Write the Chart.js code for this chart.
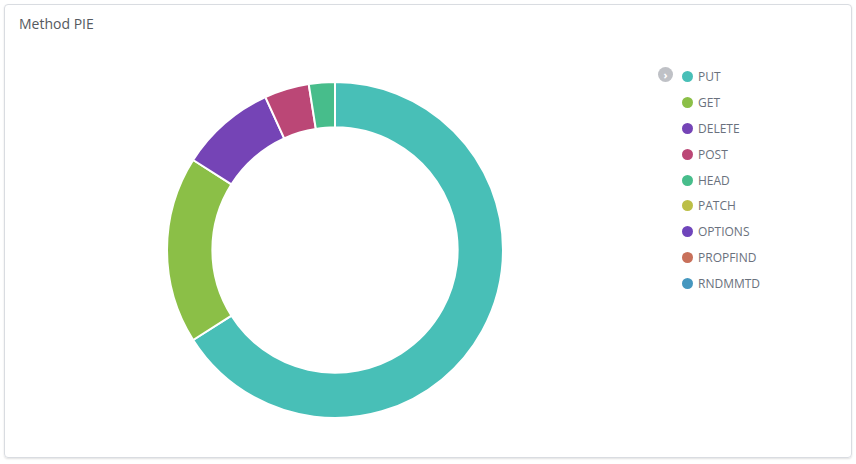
<!DOCTYPE html>
<html><head><meta charset="utf-8">
<script src="https://cdn.jsdelivr.net/npm/chart.js@4"></script>
<style>
body{margin:0;width:856px;height:464px;background:#fff;font-family:"Open Sans",sans-serif;}
#card{position:absolute;left:4px;top:4px;width:846px;height:452px;border:1px solid #d9dce1;border-radius:4px;box-shadow:0 1px 2px rgba(0,0,0,.12);}
#title{position:absolute;left:14px;top:9px;font-size:14px;color:#555a60;}
#wrap{position:absolute;left:166px;top:81px;width:338px;height:338px;}
#legend{position:absolute;left:658px;top:64px;font-size:12px;color:#6a717d;}
.row{height:25.8px;display:flex;align-items:center;position:relative;}
.dot{width:11px;height:11px;border-radius:50%;margin-left:24px;margin-right:5px;}
.chev{position:absolute;left:0;top:3px;width:15px;height:15px;border-radius:50%;background:#bfc1c6;color:#fff;font-size:11px;font-weight:bold;text-align:center;line-height:15px;}
</style></head><body>
<div id="card"><div id="title">Method PIE</div></div>
<div id="wrap"><canvas id="c"></canvas></div>
<div id="legend"></div>
<script>
const categories=["PUT","GET","DELETE","POST","HEAD","PATCH","OPTIONS","PROPFIND","RNDMMTD"];
const values=[66,18,9.2,4.3,2.5,0,0,0,0];
const colors=["#48bfb7","#8bbf47","#7544b6","#bb4776","#47bd8b","#bcbf47","#6f45bb","#c8705a","#4597bf"];
const lg=document.getElementById('legend');
categories.forEach((c,i)=>{const r=document.createElement('div');r.className='row';
r.innerHTML=(i==0?'<span class="chev">›</span>':'')+'<span class="dot" style="background:'+colors[i]+'"></span><span>'+c+'</span>';lg.appendChild(r);});
new Chart(document.getElementById('c'),{type:'doughnut',
data:{labels:categories,datasets:[{data:values,backgroundColor:colors,borderColor:'#fff',borderWidth:2}]},
options:{responsive:true,maintainAspectRatio:false,animation:false,cutout:'73%',
plugins:{legend:{display:false},tooltip:{enabled:false}}}});
</script></body></html>
